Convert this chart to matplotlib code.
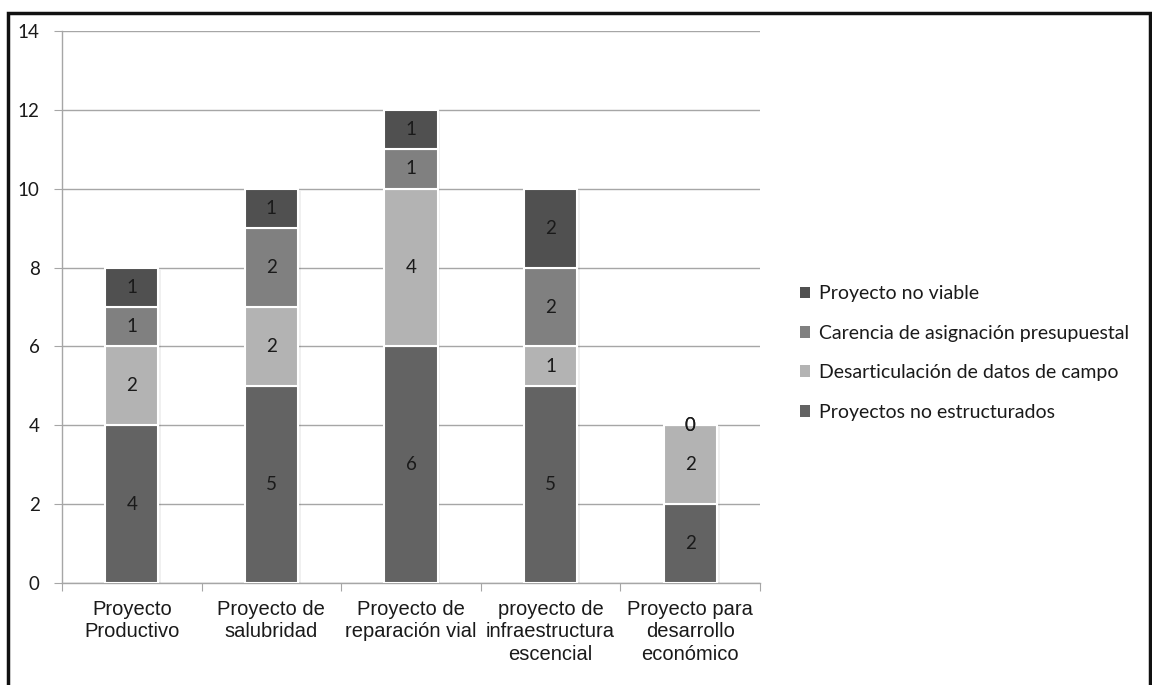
import matplotlib
matplotlib.use("Agg")
import matplotlib.pyplot as plt
from matplotlib.patches import Rectangle
import numpy as np

categories = [
    "Proyecto\nProductivo",
    "Proyecto de\nsalubridad",
    "Proyecto de\nreparación vial",
    "proyecto de\ninfraestructura\nescencial",
    "Proyecto para\ndesarrollo\neconómico",
]
series_names = [
    "Proyectos no estructurados",
    "Desarticulación de datos de campo",
    "Carencia de asignación presupuestal",
    "Proyecto no viable",
]
no_estructurados = [4, 5, 6, 5, 2]
desarticulacion = [2, 2, 4, 1, 2]
carencia = [1, 2, 1, 2, 0]
no_viable = [1, 1, 1, 2, 0]
series_values = [no_estructurados, desarticulacion, carencia, no_viable]
series_colors = ["#636363", "#b3b3b3", "#808080", "#505050"]
y_ticks = [0, 2, 4, 6, 8, 10, 12, 14]

num_font = "Lato"
cat_font = "Liberation Sans"

fig = plt.figure(figsize=(11.52, 6.85), dpi=100)
ax = fig.add_axes([62 / 1152, 1 - 583 / 685, 698 / 1152, 552 / 685])

x = np.arange(len(categories))
width = 0.38
bottom = np.zeros(len(categories))
handles = []
for name, vals, col in zip(series_names, series_values, series_colors):
    vals = np.array(vals, dtype=float)
    # soft shadow behind each segment
    ax.bar(x + 0.02, vals, width, bottom=bottom - 0.05, color="#000000",
           alpha=0.06, linewidth=0, zorder=2)
    bars = ax.bar(x, vals, width, bottom=bottom, color=col,
                  edgecolor="white", linewidth=1.5, zorder=3, label=name)
    handles.append(bars)
    for xi, v, b in zip(x, vals, bottom):
        ax.text(xi, b + v / 2, f"{int(v)}", ha="center", va="center",
                fontsize=13.5, family=num_font, color="#1a1a1a", zorder=4)
    bottom = bottom + vals

ax.set_xlim(-0.5, len(categories) - 0.5)
ax.set_ylim(0, 14)
ax.set_yticks(y_ticks)
ax.set_yticklabels([str(t) for t in y_ticks], family=num_font, fontsize=13.5,
                   color="#1a1a1a")
ax.yaxis.grid(True, color="#a6a6a6", linewidth=1)
ax.set_axisbelow(True)

ax.set_xticks(np.arange(-0.5, len(categories)), minor=False)
ax.set_xticklabels([])
ax.set_xticks(x, minor=True)
ax.set_xticklabels(categories, minor=True, family=cat_font, fontsize=14.5,
                   color="#1a1a1a", linespacing=1.23)
ax.tick_params(axis="x", which="major", length=6, color="#a6a6a6",
               direction="out")
ax.tick_params(axis="x", which="minor", length=0, pad=12)
ax.tick_params(axis="y", length=6, color="#a6a6a6", direction="out", pad=10)

for s in ["top", "right"]:
    ax.spines[s].set_visible(False)
for s in ["left", "bottom"]:
    ax.spines[s].set_color("#a6a6a6")
    ax.spines[s].set_linewidth(1)

leg = fig.legend(handles[::-1], series_names[::-1], loc="upper left",
                 bbox_to_anchor=(782 / 1152, 1 - 268 / 685), frameon=False,
                 prop={"family": num_font, "size": 14}, handlelength=0.55,
                 handleheight=0.55, handletextpad=0.45, labelspacing=1.15)
for t in leg.get_texts():
    t.set_color("#1a1a1a")
for h in leg.legend_handles:
    h.set_edgecolor("none")

# outer frame
fig.patches.append(Rectangle((8 / 1152, -0.05), 1142 / 1152, 1.05 - 13 / 685,
                             transform=fig.transFigure, fill=False,
                             edgecolor="#111111", linewidth=2.5, zorder=10))

fig.savefig("out.png", dpi=100)
